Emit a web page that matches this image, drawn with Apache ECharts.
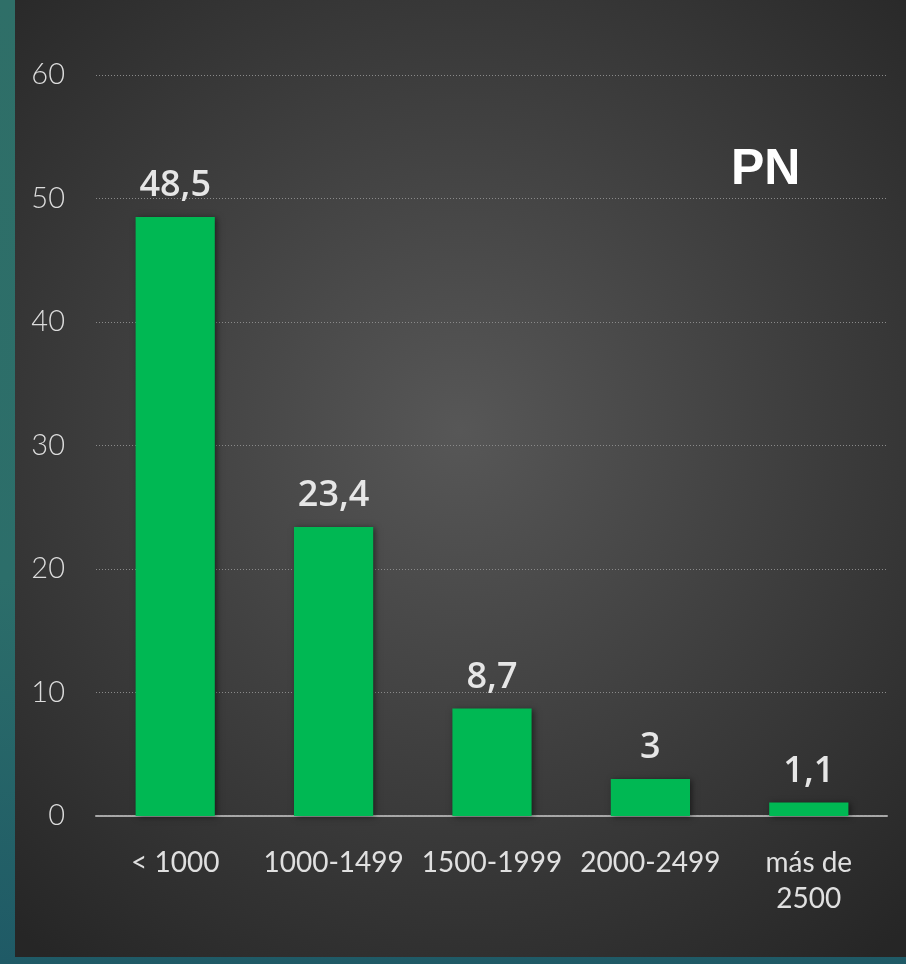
<!DOCTYPE html>
<html><head><meta charset="utf-8">
<script src="https://cdn.jsdelivr.net/npm/echarts@6/dist/echarts.min.js"></script>
<style>
html,body{margin:0;padding:0;width:906px;height:964px;overflow:hidden;background:linear-gradient(180deg,#2f6f68,#2c6e6a 60%,#1f5a66);}
#c{position:absolute;left:15px;top:0;width:891px;height:957px;}
</style></head>
<body><div id="c"></div>
<script>
const categories = ['< 1000', '1000-1499', '1500-1999', '2000-2499', 'más de\n2500'];
const values = [48.5, 23.4, 8.7, 3, 1.1];
const yTicks = { min: 0, max: 60, interval: 10 };
const title = 'PN';

const chart = echarts.init(document.getElementById('c'));
chart.setOption({
  backgroundColor: {
    type: 'radial', x: 0.5, y: 0.45, r: 0.75,
    colorStops: [{offset: 0, color: '#575757'}, {offset: 1, color: '#262626'}]
  },
  title: {
    text: title, left: 711, top: 140,
    textStyle: {color: '#ffffff', fontSize: 50, fontWeight: 'bold', fontFamily: 'Liberation Sans'}
  },
  grid: {left: 81, right: 18, top: 75, bottom: 141, containLabel: false},
  xAxis: {
    type: 'category', data: categories,
    axisLine: {lineStyle: {color: '#a8a8a8', width: 2, type: [3, 1]}},
    axisTick: {show: false},
    axisLabel: {interval: 0, color: '#e0e0e0', fontSize: 28, fontFamily: 'Lato', margin: 29, lineHeight: 36}
  },
  yAxis: {
    type: 'value', min: yTicks.min, max: yTicks.max, interval: yTicks.interval,
    axisLine: {show: false}, axisTick: {show: false},
    splitLine: {lineStyle: {color: '#8a8a8a', width: 1, type: [1, 2]}},
    axisLabel: {color: '#dcdcdc', fontSize: 29, fontWeight: 300, fontFamily: 'Lato', margin: 31}
  },
  series: [{
    type: 'bar', data: values, barWidth: '50%',
    itemStyle: {color: '#00b853', shadowColor: 'rgba(0,0,0,0.5)', shadowBlur: 6, shadowOffsetX: 2, shadowOffsetY: 1},
    label: {
      show: true, position: 'top', distance: 13,
      color: '#e6e6e6', fontSize: 36, fontWeight: 600, fontFamily: 'Open Sans',
      formatter: p => String(p.value).replace('.', ',')
    }
  }]
});
</script></body></html>
